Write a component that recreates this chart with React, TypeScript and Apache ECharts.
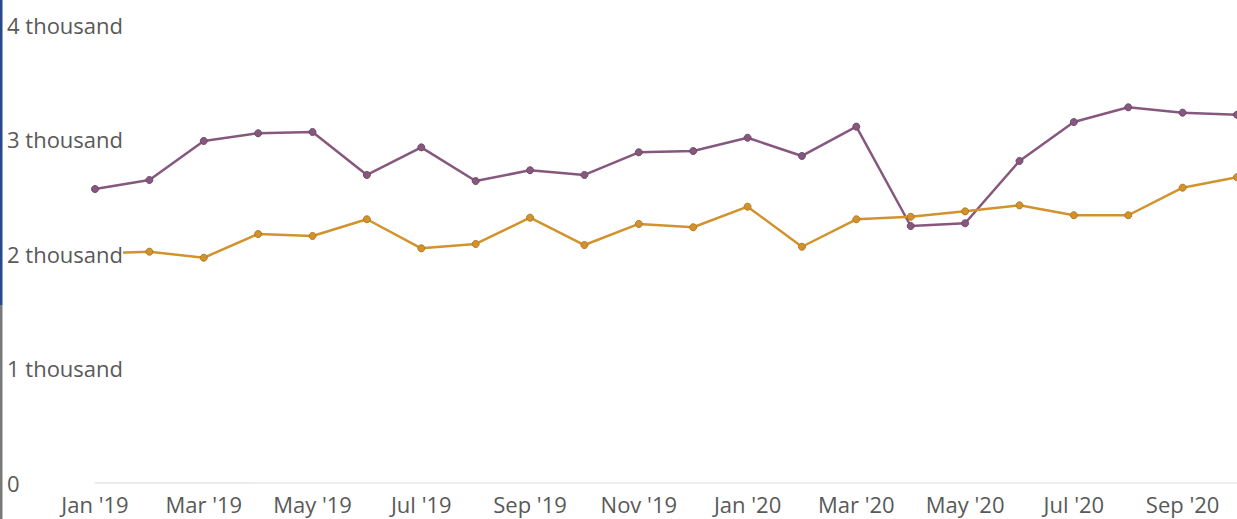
import React, { useEffect, useRef } from "react";
import * as echarts from "echarts";

const months = [
  "Jan '19", "Feb '19", "Mar '19", "Apr '19", "May '19", "Jun '19",
  "Jul '19", "Aug '19", "Sep '19", "Oct '19", "Nov '19", "Dec '19",
  "Jan '20", "Feb '20", "Mar '20", "Apr '20", "May '20", "Jun '20",
  "Jul '20", "Aug '20", "Sep '20", "Oct '20",
];

const purpleSeries = [
  2563, 2642, 2983, 3050, 3061, 2686, 2927, 2633, 2727, 2686, 2884, 2895,
  3011, 2852, 3108, 2240, 2264, 2808, 3148, 3277, 3230, 3212,
];

const orangeSeries = [
  2000, 2016, 1963, 2170, 2153, 2299, 2045, 2083, 2313, 2074, 2258, 2229,
  2409, 2059, 2299, 2321, 2368, 2421, 2334, 2334, 2575, 2666,
];

const yTickLabels: Record<number, string> = {
  0: "0",
  1000: "1 thousand",
  2000: "2 thousand",
  3000: "3 thousand",
  4000: "4 thousand",
};

export default function App() {
  const ref = useRef<HTMLDivElement>(null);
  useEffect(() => {
    document.body.style.margin = "0";
    if (!ref.current) return;
    const chart = echarts.init(ref.current, undefined, { renderer: "svg" });
    chart.setOption({
      animation: false,
      backgroundColor: "#ffffff",
      textStyle: { fontFamily: "Open Sans" },
      grid: { left: 95, right: 0, top: 24.5, bottom: 36.5, containLabel: false },
      xAxis: {
        type: "category",
        data: months,
        boundaryGap: false,
        axisLine: { show: true, lineStyle: { color: "#e8e8e8", width: 1.5 } },
        axisTick: { show: false },
        splitLine: { show: false },
        axisLabel: {
          interval: 1,
          color: "#595959",
          fontSize: 22,
          fontFamily: "Open Sans",
          margin: 10,
        },
      },
      yAxis: {
        type: "value",
        min: 0,
        max: 4000,
        interval: 1000,
        z: 5,
        axisLine: { show: false },
        axisTick: { show: false },
        splitLine: { show: false },
        axisLabel: {
          align: "left",
          margin: 88,
          color: "#595959",
          fontSize: 22,
          fontFamily: "Open Sans",
          backgroundColor: "#ffffff",
          formatter: (v: number) => yTickLabels[v] ?? String(v),
        },
      },
      series: [
        {
          type: "line",
          data: purpleSeries,
          symbol: "circle",
          symbolSize: 7,
          showSymbol: true,
          lineStyle: { color: "#87587d", width: 2.5 },
          itemStyle: { color: "#87587d", borderColor: "#6e4a68", borderWidth: 1 },
          z: 2,
        },
        {
          type: "line",
          data: orangeSeries,
          symbol: "circle",
          symbolSize: 7,
          showSymbol: true,
          lineStyle: { color: "#d2922c", width: 2.5 },
          itemStyle: { color: "#d2922c", borderColor: "#b37a22", borderWidth: 1 },
          z: 2,
        },
      ],
      graphic: [
        { type: "rect", left: 0, top: 0, shape: { width: 2.5, height: 305 }, style: { fill: "#27498a" } },
        { type: "rect", left: 0, top: 305, shape: { width: 2.5, height: 214 }, style: { fill: "#7a7a7a" } },
      ],
    });
    return () => chart.dispose();
  }, []);
  return <div ref={ref} style={{ width: 1237, height: 519 }} />;
}
